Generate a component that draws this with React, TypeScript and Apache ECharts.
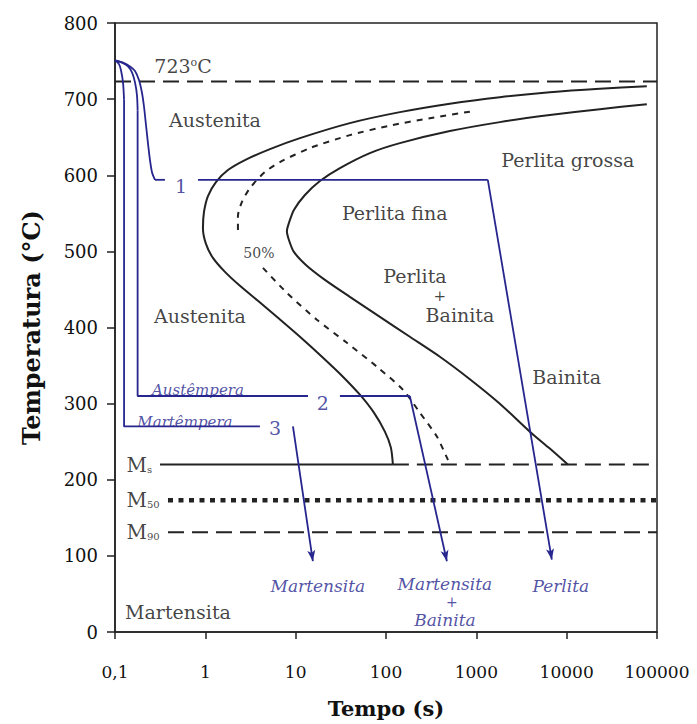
import React, { useEffect, useRef } from "react";
import * as echarts from "echarts";

type P = [number, number];

// TTT curves [time (s), temperature (°C)]
const curveStart: P[] = [
  [77100, 717.0], [23280, 713.7], [6510, 709.1], [1821, 702.6], [509, 694.0],
  [142.5, 682.9], [39.8, 668.5], [11.15, 648.8], [5.19, 634.4], [2.745, 619.9],
  [1.78, 606.8], [1.311, 591.1], [1.069, 572.7], [0.966, 551.7], [0.941, 530.8],
  [1.016, 509.8], [1.214, 491.4], [1.649, 473.0], [2.416, 454.7], [3.823, 435.0],
  [6.365, 412.7], [11.15, 387.8], [19.53, 361.6], [32.5, 336.7], [51.4, 311.7],
  [73.5, 288.1], [97.2, 263.2], [113.3, 242.2], [119.2, 220],
];
const curve50Upper: P[] = [
  [847.8, 683.5], [305.9, 675.0], [110.4, 665.2], [39.8, 652.7], [14.38, 635.7],
  [6.7, 617.3], [4.568, 604.2], [3.118, 583.2], [2.543, 564.9], [2.296, 546.5],
  [2.296, 528.1],
];
const curve50Lower: P[] = [
  [4.342, 478.3], [8.003, 445.5], [17.19, 410.1], [36.9, 379.9], [79.3, 348.5],
  [153.8, 318.3], [237.1, 288.1], [365.7, 256.7], [483.8, 226.5], [522.4, 220],
];
const curveEnd: P[] = [
  [77100, 693.4], [23280, 686.8], [6510, 679.0], [1821, 669.8], [509, 658.0],
  [142.5, 642.2], [66.3, 629.1], [30.9, 609.4], [18.56, 592.4], [12.66, 574.0],
  [9.56, 554.4], [8.42, 537.3], [8.0, 526.8], [8.42, 515.0], [9.56, 499.3],
  [12.99, 482.2], [21.08, 462.6], [39.8, 440.3], [85.6, 414.0], [183.8, 387.8],
  [394.8, 361.6], [847.8, 332.1], [1821, 299.9], [3910, 263.2], [6510, 240.9],
  [10300, 220],
];

// Reference temperatures
const a1Temp = 723;
const msTemp = 220;
const m50Temp = 173;
const m90Temp = 131;
const timeMin = 0.1;
const timeMax = 100000;
const msLineStart = 0.315;
const msSolidEnd = 119.2;
const mLineStart = 0.386;

// Cooling paths (blue)
const path1Curve: P[] = [
  [0.1, 751], [0.1226, 748], [0.1466, 743], [0.1665, 737], [0.1843, 725],
  [0.1991, 708], [0.2095, 690], [0.2203, 666], [0.2318, 642], [0.2439, 620],
  [0.2567, 604], [0.2772, 594],
];
const path1Hold: P[][] = [
  [[0.2772, 594], [0.357, 594]],
  [[0.83, 594], [1340, 594]],
];
const path1Arrow: P[] = [[1340, 594], [6850, 95]];

const path2Curve: P[] = [
  [0.1, 751], [0.1196, 748], [0.1393, 743], [0.1542, 735], [0.1665, 722],
  [0.1751, 705], [0.178, 685],
];
const path2Hold: P[][] = [
  [[0.178, 685], [0.178, 310], [13.7, 310]],
  [[30.9, 310], [183.6, 310]],
];
const path2Arrow: P[] = [[183.6, 310], [472, 93]];

const path3Curve: P[] = [
  [0.1, 751], [0.1107, 746], [0.1165, 738], [0.1226, 722], [0.126, 699],
];
const path3Hold: P[][] = [[[0.126, 699], [0.126, 270], [4.02, 270]]];
const path3Arrow: P[] = [[9.33, 270], [15.5, 93]];

// Text labels
type Lbl = { text: string; t: number; T: number; kind: string; pos?: string };
const labels: Lbl[] = [
  { text: "723{sup|o}C", t: 0.566, T: 743, kind: "black" },
  { text: "Austenita", t: 1.28, T: 672, kind: "black" },
  { text: "1", t: 0.537, T: 586, kind: "blueNum" },
  { text: "Perlita grossa", t: 10300, T: 620, kind: "black" },
  { text: "Perlita fina", t: 125, T: 550, kind: "black" },
  { text: "50%", t: 3.92, T: 498, kind: "small" },
  { text: "Austenita", t: 0.872, T: 415, kind: "black" },
  { text: "Perlita", t: 209, T: 467, kind: "black" },
  { text: "+", t: 395, T: 442, kind: "plus" },
  { text: "Bainita", t: 658, T: 416, kind: "black" },
  { text: "Bainita", t: 10000, T: 335, kind: "black" },
  { text: "Austêmpera", t: 0.829, T: 318, kind: "blueItalic" },
  { text: "2", t: 20, T: 301, kind: "blueNum" },
  { text: "Martêmpera", t: 0.595, T: 276, kind: "blueItalic" },
  { text: "3", t: 5.9, T: 268, kind: "blueNum" },
  { text: "M{sub|s}", t: 0.134, T: 220, kind: "mlabel", pos: "right" },
  { text: "M{sub|50}", t: 0.134, T: 174, kind: "mlabel", pos: "right" },
  { text: "M{sub|90}", t: 0.134, T: 131, kind: "mlabel", pos: "right" },
  { text: "Martensita", t: 17.6, T: 60, kind: "blueItalic2" },
  { text: "Martensita", t: 449, T: 63, kind: "blueItalic2" },
  { text: "+", t: 536, T: 40, kind: "bluePlus" },
  { text: "Bainita", t: 449, T: 16, kind: "blueItalic2" },
  { text: "Perlita", t: 8610, T: 60, kind: "blueItalic2" },
  { text: "Martensita", t: 0.498, T: 26, kind: "black" },
];

const xTickLabels: Record<string, string> = {
  "-1": "0,1", "0": "1", "1": "10", "2": "100", "3": "1000", "4": "10000", "5": "100000",
};

const FONT = "DejaVu Serif";
const BLACK = "#111111";
const BLUE = "#26268e";

const styleFor = (kind: string) => {
  switch (kind) {
    case "blueNum":
      return { color: BLUE, fontSize: 19, fontStyle: "normal" };
    case "blueItalic":
      return { color: BLUE, fontSize: 15, fontStyle: "italic" };
    case "blueItalic2":
      return { color: BLUE, fontSize: 17, fontStyle: "italic" };
    case "bluePlus":
      return { color: BLUE, fontSize: 14, fontStyle: "normal" };
    case "plus":
      return { color: BLACK, fontSize: 15, fontStyle: "normal" };
    case "small":
      return { color: BLACK, fontSize: 14, fontStyle: "normal" };
    case "mlabel":
      return { color: BLACK, fontSize: 20, fontStyle: "normal" };
    default:
      return { color: BLACK, fontSize: 19, fontStyle: "normal" };
  }
};

export default function App() {
  const ref = useRef<HTMLDivElement>(null);
  useEffect(() => {
    if (!ref.current) return;
    const chart = echarts.init(ref.current, undefined, { renderer: "svg" });

    const blackLine = (data: P[], type: any = "solid", width = 2, smooth: any = 0.25) => ({
      type: "line",
      data,
      smooth,
      symbol: "none",
      silent: true,
      lineStyle: { color: "#222", width, type },
      z: 3,
    });
    const blueLine = (data: P[], smooth: any = false) => ({
      type: "line",
      data,
      smooth,
      symbol: "none",
      silent: true,
      lineStyle: { color: BLUE, width: 1.8 },
      z: 4,
    });
    const arrow = (seg: P[]) => ({
      type: "line",
      data: [],
      symbol: "none",
      silent: true,
      markLine: {
        silent: true,
        animation: false,
        symbol: ["none", "arrow"],
        symbolSize: [6, 11],
        label: { show: false },
        lineStyle: { color: BLUE, width: 1.8, type: "solid" },
        emphasis: { disabled: true },
        data: [[{ coord: seg[0] }, { coord: seg[1] }]],
      },
    });

    const series: any[] = [
      blackLine([[timeMin, a1Temp], [timeMax, a1Temp]], [16, 8], 2, false),
      blackLine([[msLineStart, msTemp], [msSolidEnd, msTemp]], "solid", 2, false),
      blackLine([[msSolidEnd, msTemp], [timeMax, msTemp]], [16, 8], 2, false),
      blackLine([[mLineStart, m50Temp], [timeMax, m50Temp]], [5, 5.5], 4.5, false),
      blackLine([[mLineStart, m90Temp], [timeMax, m90Temp]], [16, 8], 2, false),
      blackLine(curveStart),
      blackLine(curve50Upper, [6, 6], 2),
      blackLine(curve50Lower, [6, 6], 2),
      blackLine(curveEnd),
      blueLine(path1Curve, 0.3),
      ...path1Hold.map((d) => blueLine(d)),
      arrow(path1Arrow),
      blueLine(path2Curve, 0.3),
      ...path2Hold.map((d) => blueLine(d)),
      arrow(path2Arrow),
      blueLine(path3Curve, 0.3),
      ...path3Hold.map((d) => blueLine(d)),
      arrow(path3Arrow),
      {
        type: "scatter",
        symbolSize: 0,
        silent: true,
        z: 10,
        data: labels.map((l) => {
          const s = styleFor(l.kind);
          return {
            value: [l.t, l.T],
            label: {
              show: true,
              position: l.pos === "right" ? "right" : "inside",
              distance: 0,
              formatter: l.text,
              fontFamily: FONT,
              color: s.color,
              fontSize: s.fontSize,
              fontStyle: s.fontStyle,
              rich: {
                sup: { fontSize: 11, verticalAlign: "top", fontFamily: FONT, color: s.color, padding: [0, 0, 8, 0] },
                sub: { fontSize: 10, fontFamily: FONT, color: s.color, padding: [9, 0, 0, 0] },
              },
            },
          };
        }),
      },
    ];

    chart.setOption({
      animation: false,
      grid: {
        left: 115, right: 40, top: 23, bottom: 91,
        show: true, borderColor: "#222", borderWidth: 1.5, backgroundColor: "transparent",
      },
      xAxis: {
        type: "log",
        logBase: 10,
        min: timeMin,
        max: timeMax,
        splitNumber: 6,
        name: "Tempo (s)",
        nameLocation: "middle",
        nameGap: 66,
        nameTextStyle: { fontFamily: FONT, fontSize: 21, fontWeight: "bold", color: BLACK },
        axisLine: { show: true, lineStyle: { color: "#222", width: 1.5 } },
        axisTick: { show: true, length: 7, lineStyle: { color: "#222", width: 1.5 } },
        minorTick: { show: false },
        splitLine: { show: false },
        axisLabel: {
          margin: 31,
          fontFamily: FONT,
          fontSize: 17,
          color: BLACK,
          formatter: (v: number) => xTickLabels[String(Math.round(Math.log10(v)))] ?? String(v),
        },
      },
      yAxis: {
        type: "value",
        min: 0,
        max: 800,
        interval: 100,
        name: "Temperatura (°C)",
        nameLocation: "middle",
        nameGap: 72,
        nameRotate: 90,
        nameTextStyle: { fontFamily: FONT, fontSize: 24, fontWeight: "bold", color: BLACK },
        axisLine: { show: true, lineStyle: { color: "#222", width: 1.5 } },
        axisTick: { show: true, length: 8, lineStyle: { color: "#222", width: 1.5 } },
        splitLine: { show: false },
        axisLabel: { margin: 17, fontFamily: FONT, fontSize: 18, color: BLACK },
      },
      series,
    });
    return () => chart.dispose();
  }, []);
  return (
    <div
      ref={ref}
      style={{ position: "absolute", left: 0, top: 0, width: 697, height: 724, background: "#fff" }}
    />
  );
}
